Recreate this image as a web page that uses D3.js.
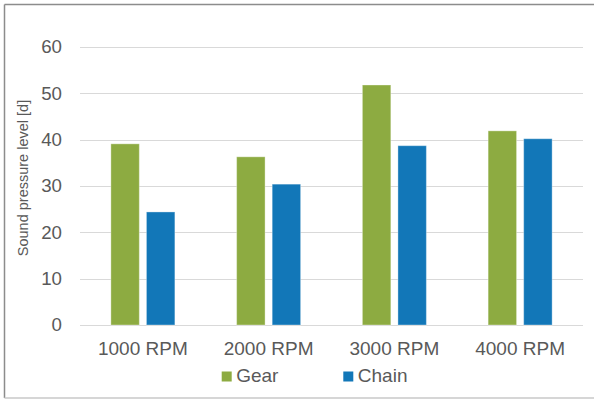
<!DOCTYPE html>
<html>
<head>
<meta charset="utf-8">
<script src="https://cdn.jsdelivr.net/npm/d3@7"></script>
<style>
  html, body { margin: 0; padding: 0; background: #fff; }
  svg { display: block; font-family: "Liberation Sans", Arial, sans-serif; }
</style>
</head>
<body>
<svg id="chart" width="594" height="399"></svg>
<script>
const categories = ["1000 RPM", "2000 RPM", "3000 RPM", "4000 RPM"];
const seriesNames = ["Gear", "Chain"];
const gearValues = [39.1, 36.3, 51.8, 41.9];
const chainValues = [24.4, 30.4, 38.7, 40.2];
const yTicks = [0, 10, 20, 30, 40, 50, 60];
const yTitle = "Sound pressure level [d]";
const colors = { Gear: "#8dab41", Chain: "#1277b8" };

const data = categories.map((c, i) => ({ cat: c, Gear: gearValues[i], Chain: chainValues[i] }));

const svg = d3.select("#chart");
const W = 594, H = 399;
const plot = { left: 80, right: 583, top: 47, bottom: 325 };

// outer frame
svg.append("line").attr("x1", 4.5).attr("x2", W).attr("y1", 4.5).attr("y2", 4.5)
  .attr("stroke", "#8c8c8c").attr("stroke-width", 1.5);
svg.append("line").attr("x1", 4.5).attr("x2", 4.5).attr("y1", 4.5).attr("y2", 398)
  .attr("stroke", "#8c8c8c").attr("stroke-width", 1.5);
svg.append("line").attr("x1", 4.5).attr("x2", W).attr("y1", 398).attr("y2", 398)
  .attr("stroke", "#c8c8c8").attr("stroke-width", 1.5);

const x0 = d3.scaleBand().domain(categories).range([plot.left, plot.right]).padding(0);
const groupW = 64;
const x1 = d3.scaleBand().domain(seriesNames)
  .range([(x0.bandwidth() - groupW) / 2, (x0.bandwidth() + groupW) / 2])
  .paddingInner(0.2).paddingOuter(0);
const y = d3.scaleLinear().domain([0, 60]).range([plot.bottom, plot.top]);

// gridlines
svg.append("g").selectAll("line").data(yTicks).join("line")
  .attr("x1", plot.left).attr("x2", plot.right)
  .attr("y1", d => Math.round(y(d)) + 0.5).attr("y2", d => Math.round(y(d)) + 0.5)
  .attr("stroke", "#d9d9d9").attr("stroke-width", 1);

// y axis labels
const yAxis = d3.axisLeft(y).tickValues(yTicks).tickSize(0).tickPadding(0);
const gy = svg.append("g").attr("transform", `translate(62,0)`).call(yAxis);
gy.select(".domain").remove();
gy.selectAll("text").attr("font-size", "18.7px").attr("fill", "#595959")
  .attr("font-family", "'Liberation Sans', Arial, sans-serif");

// bars
const groups = svg.append("g").selectAll("g").data(data).join("g")
  .attr("transform", d => `translate(${x0(d.cat)},0)`);
groups.selectAll("rect").data(d => seriesNames.map(s => ({ s, v: d[s] }))).join("rect")
  .attr("x", d => x1(d.s))
  .attr("width", x1.bandwidth())
  .attr("y", d => y(d.v))
  .attr("height", d => y(0) - y(d.v))
  .attr("fill", d => colors[d.s])
  .attr("stroke", "rgba(255,255,255,0.35)")
  .attr("stroke-width", 1);

// x axis labels
const xAxis = d3.axisBottom(x0).tickSize(0).tickPadding(0);
const gx = svg.append("g").attr("transform", `translate(0,341)`).call(xAxis);
gx.select(".domain").remove();
gx.selectAll("text").attr("font-size", "19px").attr("fill", "#595959")
  .attr("font-family", "'Liberation Sans', Arial, sans-serif")
  .attr("dy", "0.71em");

// y title
svg.append("text")
  .attr("transform", `translate(27.5,178) rotate(-90)`)
  .attr("text-anchor", "middle")
  .attr("font-size", "14.5px").attr("fill", "#595959")
  .text(yTitle);

// legend
const legendX = [221.7, 343.3];
const lg = svg.append("g").selectAll("g").data(seriesNames).join("g")
  .attr("transform", (d, i) => `translate(${legendX[i]},371.5)`);
lg.append("rect").attr("width", 10).attr("height", 10).attr("fill", d => colors[d]);
lg.append("text").attr("x", 14.5).attr("y", 10.5)
  .attr("font-size", "19px").attr("fill", "#595959").text(d => d);
</script>
</body>
</html>
